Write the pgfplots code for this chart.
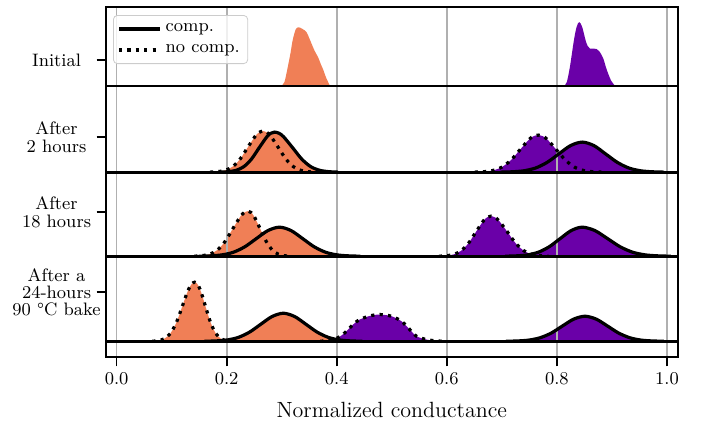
\documentclass[border=0pt]{standalone}
\usepackage{fontspec}
\usepackage{pgfplots}
\usepackage{pgfplotstable}
\pgfplotsset{compat=1.18}
\definecolor{orng}{RGB}{240,127,86}
\definecolor{purp}{RGB}{106,0,168}
\definecolor{gridc}{RGB}{176,176,176}
\definecolor{legc}{RGB}{204,204,204}
\pgfplotsset{set layers,
  ridge/.style={y filter/.expression={y+#1}},
  fillO/.style={fill=orng, draw=none, smooth, forget plot, on layer=axis background},
  fillP/.style={fill=purp, draw=none, smooth, forget plot, on layer=axis background},
  comp/.style={black, line width=1.6pt, smooth, forget plot},
  nocomp/.style={black, line width=1.6pt, smooth, forget plot, dash pattern=on 1.6pt off 2.6pt},
  base/.style={black, line width=1.4pt, forget plot},
}
% row 1: initial
\pgfplotstableread{
x h
0.299 0
0.305 4
0.311 19
0.316 33
0.320 46
0.3255 56.7
0.331 58.7
0.338 57
0.345 54
0.350 48
0.354 42.7
0.360 35
0.366 29
0.371 22
0.375 17
0.381 8
0.388 0
}\oA
\pgfplotstableread{
x h
0.813 0
0.818 4
0.8236 19
0.831 46
0.8358 59
0.8406 64
0.846 59
0.852 46
0.856 40
0.860 37.5
0.866 37.5
0.872 37
0.878 34
0.8842 27.7
0.889 19
0.893 12.7
0.899 5
0.906 0
}\pA
% row 2: after 2 hours
\pgfplotstableread{
x h
0.189 0
0.203 0.44
0.217 1.76
0.231 5.4
0.245 13.0
0.259 24.3
0.273 35.3
0.280 38.8
0.287 40
0.29525 38.8
0.3035 35.3
0.320 24.3
0.3365 13.0
0.353 5.4
0.3695 1.76
0.386 0.44
0.4025 0
}\oBs
\pgfplotstableread{
x h
0.1698 0
0.1835 0.46
0.1973 1.8
0.211 5.55
0.2248 13.3
0.2385 24.9
0.2523 36.2
0.2591 39.7
0.266 41
0.2729 39.7
0.2798 36.2
0.2935 24.9
0.3073 13.3
0.321 5.55
0.3348 1.8
0.3485 0.46
0.3623 0
}\oBd
\pgfplotstableread{
x h
0.6973 0
0.7185 0.33
0.7398 1.32
0.761 4.06
0.7823 9.74
0.8035 18.2
0.8248 26.5
0.846 30
0.8673 26.5
0.8885 18.2
0.9098 9.74
0.931 4.06
0.9523 1.32
0.9735 0.33
0.9948 0
}\pBs
\pgfplotstableread{
x h
0.6505 0
0.667 0.41
0.6835 1.62
0.700 5.0
0.7165 12.0
0.733 22.4
0.7495 32.7
0.75775 35.9
0.766 37
0.77425 35.9
0.7825 32.7
0.799 22.4
0.8155 12.0
0.832 5.0
0.8485 1.62
0.865 0.41
0.8815 0
}\pBd
% row 3: after 18 hours
\pgfplotstableread{
x h
0.149 0
0.170 0.32
0.191 1.27
0.212 3.9
0.233 9.4
0.254 17.6
0.275 25.6
0.296 29
0.317 25.6
0.338 17.6
0.359 9.4
0.380 3.9
0.401 1.27
0.422 0.32
0.443 0
}\oCs
\pgfplotstableread{
x h
0.141 0
0.155 0.5
0.169 1.98
0.183 6.1
0.197 14.6
0.211 27.3
0.225 39.7
0.232 43.6
0.239 45
0.2445 43.6
0.250 39.7
0.261 27.3
0.272 14.6
0.283 6.1
0.294 1.98
0.305 0.5
0.316 0
}\oCd
\pgfplotstableread{
x h
0.706 0
0.726 0.32
0.746 1.27
0.766 3.9
0.786 9.4
0.806 17.6
0.826 25.6
0.846 29
0.869 25.6
0.892 17.6
0.915 9.4
0.938 3.9
0.961 1.27
0.984 0.32
1.007 0
}\pCs
\pgfplotstableread{
x h
0.5855 0
0.599 0.44
0.6125 1.76
0.626 5.4
0.6395 13.0
0.653 24.3
0.6665 35.3
0.67325 38.8
0.680 40
0.6875 38.8
0.695 35.3
0.710 24.3
0.725 13.0
0.740 5.4
0.755 1.76
0.770 0.44
0.785 0
}\pCd
% row 4: after bake
\pgfplotstableread{
x h
0.1595 0
0.180 0.31
0.2005 1.23
0.221 3.8
0.2415 9.1
0.262 17.0
0.2825 24.7
0.303 28
0.3235 24.7
0.344 17.0
0.3645 9.1
0.385 3.8
0.4055 1.23
0.426 0.31
0.4465 0
}\oDs
\pgfplotstableread{
x h
0.065 0
0.076 0.65
0.087 2.6
0.098 8.0
0.109 19.2
0.120 35.8
0.1255 44.5
0.131 52.1
0.1365 57.2
0.142 59
0.14675 57.2
0.1515 52.1
0.15625 44.5
0.161 35.8
0.1705 19.2
0.180 8.0
0.1895 2.6
0.199 0.65
0.2085 0
}\oDd
\pgfplotstableread{
x h
0.7075 0
0.728 0.28
0.7485 1.1
0.769 3.4
0.7895 8.1
0.810 15.2
0.8305 22.1
0.851 25
0.8715 22.1
0.892 15.2
0.9125 8.1
0.933 3.4
0.9535 1.1
0.974 0.28
0.9945 0
}\pDs
\pgfplotstableread{
x h
0.370 0
0.385 0.8
0.399 2.7
0.411 6.7
0.4236 13.3
0.432 17.8
0.4418 21.7
0.460 25.3
0.478 26.7
0.4994 25
0.5176 20
0.5327 11.7
0.545 5
0.563 1.7
0.580 0.4
0.595 0
}\pDd
\begin{document}
\begin{tikzpicture}
\begin{axis}[
  width=286pt, height=175pt, scale only axis,
  xmin=-0.02, xmax=1.02, ymin=0, ymax=350,
  axis line style={line width=1pt},
  tick align=outside, tick pos=left,
  major tick length=4.5pt,
  tick style={line width=0.9pt, black},
  xtick={0,0.2,0.4,0.6,0.8,1},
  xticklabel style={font=\fontsize{9}{11}\selectfont, /pgf/number format/.cd, fixed, fixed zerofill, precision=1},
  xmajorgrids, grid style={gridc, line width=0.9pt},
  ytick={65,145,220,297},
  yticklabels={{After a\\24-hours\\90 °C bake},{After\\18 hours},{After\\2 hours},{Initial}},
  yticklabel style={align=center, anchor=center, xshift=-20pt, font=\fontsize{9}{8.7}\selectfont},
  xlabel={Normalized conductance},
  xlabel style={font=\fontsize{11}{13}\selectfont, at={(axis description cs:0.5,0)}, anchor=base, yshift=-30pt, inner sep=0pt},
  legend style={at={(0.013,0.977)}, anchor=north west, draw=legc, rounded corners=2pt,
    fill=white, fill opacity=0.8, text opacity=1, draw opacity=1,
    font=\fontsize{9}{11}\selectfont, row sep=1pt, inner xsep=2pt, inner ysep=2pt},
  legend cell align=left,
  legend image code/.code={\draw[#1] (0pt,0pt) -- (18pt,0pt); \path (0pt,0pt) -- (20.5pt,0pt);},
]
\addlegendimage{black, line width=1.6pt}
\addlegendentry{comp.}
\addlegendimage{black, line width=1.6pt, dash pattern=on 1.6pt off 2.6pt}
\addlegendentry{no comp.}

% fills
\addplot[fillO, ridge=271] table {\oA} -- cycle;
\addplot[fillP, ridge=271] table {\pA} -- cycle;
\addplot[fillO, ridge=185] table {\oBs} -- cycle;
\addplot[fillO, ridge=185] table {\oBd} -- cycle;
\addplot[fillP, ridge=185] table {\pBs} -- cycle;
\addplot[fillP, ridge=185] table {\pBd} -- cycle;
\addplot[fillO, ridge=101] table {\oCs} -- cycle;
\addplot[fillO, ridge=101] table {\oCd} -- cycle;
\addplot[fillP, ridge=101] table {\pCs} -- cycle;
\addplot[fillP, ridge=101] table {\pCd} -- cycle;
\addplot[fillO, ridge=16] table {\oDs} -- cycle;
\addplot[fillO, ridge=16] table {\oDd} -- cycle;
\addplot[fillP, ridge=16] table {\pDs} -- cycle;
\addplot[fillP, ridge=16] table {\pDd} -- cycle;

% outlines
\addplot[comp, ridge=185] table {\oBs};
\addplot[nocomp, ridge=185] table {\oBd};
\addplot[comp, ridge=185] table {\pBs};
\addplot[nocomp, ridge=185] table {\pBd};
\addplot[comp, ridge=101] table {\oCs};
\addplot[nocomp, ridge=101] table {\oCd};
\addplot[comp, ridge=101] table {\pCs};
\addplot[nocomp, ridge=101] table {\pCd};
\addplot[comp, ridge=16] table {\oDs};
\addplot[nocomp, ridge=16] table {\oDd};
\addplot[comp, ridge=16] table {\pDs};
\addplot[nocomp, ridge=16] table {\pDd};

% row baselines
\addplot[base] coordinates {(-0.02,271) (1.02,271)};
\addplot[base] coordinates {(-0.02,185) (1.02,185)};
\addplot[base] coordinates {(-0.02,101) (1.02,101)};
\addplot[base] coordinates {(-0.02,16) (1.02,16)};
\end{axis}
\path (current axis.south west) ++(-52.75pt,-31.5pt) coordinate (bbl);
\path (current axis.north east) ++(13pt,3.5pt) coordinate (bbr);
\path (bbl) rectangle (bbr);
\end{tikzpicture}
\end{document}
